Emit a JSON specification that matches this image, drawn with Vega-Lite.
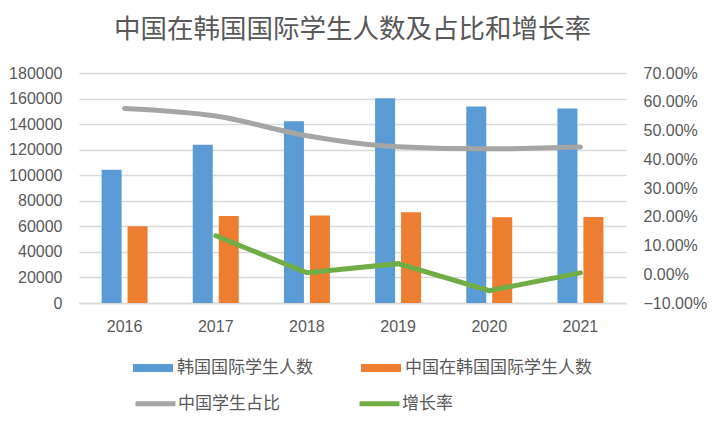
{
  "$schema": "https://vega.github.io/schema/vega-lite/v6.json",
  "width": 547,
  "height": 230,
  "autosize": {"type": "none"},
  "padding": {"left": 79, "top": 73, "right": 86, "bottom": 120},
  "background": "white",
  "config": {
    "font": "Noto Sans CJK SC",
    "view": {"stroke": null},
    "axis": {"labelFont": "Liberation Sans", "labelFontSize": 16, "labelColor": "#595959", "ticks": false, "domain": false, "title": null}
  },
  "title": {
    "text": "中国在韩国国际学生人数及占比和增长率",
    "fontSize": 26.5,
    "fontWeight": "normal",
    "color": "#595959",
    "anchor": "middle",
    "offset": 22,
    "font": "Noto Sans CJK SC"
  },
  "datasets": {
    "bars": [
      {"year": "2016", "series": "韩国国际学生人数", "value": 104262},
      {"year": "2016", "series": "中国在韩国国际学生人数", "value": 60136},
      {"year": "2017", "series": "韩国国际学生人数", "value": 123858},
      {"year": "2017", "series": "中国在韩国国际学生人数", "value": 68184},
      {"year": "2018", "series": "韩国国际学生人数", "value": 142205},
      {"year": "2018", "series": "中国在韩国国际学生人数", "value": 68537},
      {"year": "2019", "series": "韩国国际学生人数", "value": 160165},
      {"year": "2019", "series": "中国在韩国国际学生人数", "value": 71067},
      {"year": "2020", "series": "韩国国际学生人数", "value": 153695},
      {"year": "2020", "series": "中国在韩国国际学生人数", "value": 67030},
      {"year": "2021", "series": "韩国国际学生人数", "value": 152281},
      {"year": "2021", "series": "中国在韩国国际学生人数", "value": 67348}
    ],
    "lines": [
      {"year": "2016", "share": 0.5768, "growth": null},
      {"year": "2017", "share": 0.5505, "growth": 0.1338},
      {"year": "2018", "share": 0.4820, "growth": 0.0052},
      {"year": "2019", "share": 0.4437, "growth": 0.0369},
      {"year": "2020", "share": 0.4361, "growth": -0.0568},
      {"year": "2021", "share": 0.4423, "growth": 0.0047}
    ]
  },
  "layer": [
    {
      "data": {"name": "bars"},
      "mark": {"type": "bar"},
      "encoding": {
        "x": {
          "field": "year",
          "type": "ordinal",
          "scale": {"paddingInner": 0, "paddingOuter": 0},
          "axis": {"labelAngle": 0, "labelPadding": 15, "domain": true, "domainColor": "#D9D9D9", "domainWidth": 1.5}
        },
        "xOffset": {
          "field": "series",
          "type": "nominal",
          "sort": ["韩国国际学生人数", "中国在韩国国际学生人数"],
          "scale": {"paddingInner": 0.23, "paddingOuter": 0.87}
        },
        "y": {
          "field": "value",
          "type": "quantitative",
          "scale": {"domain": [0, 180000], "nice": false},
          "axis": {
            "values": [0, 20000, 40000, 60000, 80000, 100000, 120000, 140000, 160000, 180000],
            "format": "d",
            "grid": true,
            "gridColor": "#D9D9D9",
            "gridWidth": 1.5,
            "labelPadding": 17
          }
        },
        "fill": {
          "field": "series",
          "type": "nominal",
          "sort": ["韩国国际学生人数", "中国在韩国国际学生人数"],
          "scale": {"domain": ["韩国国际学生人数", "中国在韩国国际学生人数"], "range": ["#5B9BD5", "#ED7D31"]},
          "legend": {
            "orient": "none",
            "legendX": 54,
            "legendY": 275,
            "direction": "horizontal",
            "title": null,
            "symbolType": "M-1,-0.2H1V0.2H-1Z",
            "symbolSize": 1600,
            "symbolStrokeWidth": 0,
            "labelFontSize": 17,
            "labelColor": "#595959",
            "labelFont": "Noto Sans CJK SC",
            "columnPadding": 48,
            "labelLimit": 300
          }
        }
      }
    },
    {
      "data": {"name": "lines"},
      "mark": {"type": "line", "strokeWidth": 5, "strokeCap": "round", "interpolate": "monotone"},
      "encoding": {
        "x": {"field": "year", "type": "ordinal"},
        "y": {
          "field": "share",
          "type": "quantitative",
          "scale": {"domain": [-0.1, 0.7], "nice": false},
          "axis": {
            "orient": "right",
            "values": [-0.1, 0, 0.1, 0.2, 0.3, 0.4, 0.5, 0.6, 0.7],
            "format": ".2%",
            "grid": false,
            "labelPadding": 17
          }
        },
        "stroke": {
          "datum": "中国学生占比",
          "type": "nominal",
          "scale": {"domain": ["中国学生占比", "增长率"], "range": ["#A5A5A5", "#70AD47"]},
          "legend": {
            "orient": "none",
            "legendX": 54,
            "legendY": 308,
            "direction": "horizontal",
            "title": null,
            "symbolType": "stroke",
            "symbolSize": 1600,
            "symbolStrokeWidth": 5,
            "labelOffset": 0,
            "labelFontSize": 17,
            "labelColor": "#595959",
            "labelFont": "Noto Sans CJK SC",
            "columnPadding": 69,
            "labelLimit": 300
          }
        }
      }
    },
    {
      "data": {"name": "lines"},
      "mark": {"type": "line", "strokeWidth": 5, "strokeCap": "round"},
      "encoding": {
        "x": {"field": "year", "type": "ordinal"},
        "y": {"field": "growth", "type": "quantitative", "scale": {"domain": [-0.1, 0.7], "nice": false}, "axis": null},
        "stroke": {"datum": "增长率", "type": "nominal"}
      }
    }
  ],
  "resolve": {"scale": {"y": "independent"}}
}
